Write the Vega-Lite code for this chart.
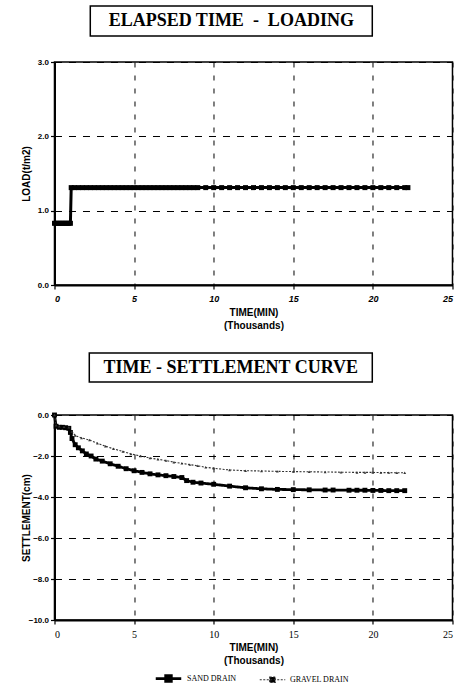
{
  "$schema": "https://vega.github.io/schema/vega-lite/v6.json",
  "padding": {"left": 20, "top": 5, "right": 0, "bottom": 0},
  "background": "white",
  "config": {
    "view": {"stroke": "black", "strokeWidth": 1.5},
    "axis": {
      "domainColor": "black", "domainWidth": 2,
      "tickColor": "black", "tickWidth": 1.2, "tickSize": 4,
      "gridColor": "black", "gridOpacity": 1, "gridWidth": 1,
      "labelColor": "black", "titleColor": "black",
      "labelFont": "Liberation Sans", "labelFontWeight": "bold", "labelFontSize": 8,
      "titleFont": "Liberation Sans", "titleFontWeight": "bold", "titleFontSize": 10
    },
    "axisX": {"gridDash": [5, 8]},
    "axisY": {"gridDash": [7, 7]}
  },
  "spacing": 21,
  "center": true,
  "vconcat": [
    {
      "spacing": 20,
      "center": true,
      "vconcat": [
        {
          "width": 282, "height": 30,
          "view": {"stroke": "black", "strokeWidth": 1.5},
          "title": {"text": ".", "orient": "right", "color": "transparent", "offset": 35, "fontSize": 10},
          "data": {"values": [{"t": "ELAPSED TIME\u00a0 -\u00a0 LOADING"}]},
          "mark": {"type": "text", "font": "Liberation Serif", "fontWeight": "bold", "fontSize": 18, "color": "black"},
          "encoding": {"text": {"field": "t"}}
        },
        {
          "width": 398, "height": 223,
          "view": {"stroke": "black", "strokeWidth": 1.5},
          "data": {"values": [
            {"t": 0, "L": 0.83}, {"t": 0.1, "L": 0.83}, {"t": 0.2, "L": 0.83}, {"t": 0.3, "L": 0.83},
            {"t": 0.4, "L": 0.83}, {"t": 0.5, "L": 0.83}, {"t": 0.6, "L": 0.83}, {"t": 0.7, "L": 0.83},
            {"t": 0.8, "L": 0.83}, {"t": 0.9, "L": 0.83}, {"t": 1.0, "L": 0.83},
            {"t": 1.05, "L": 1.31}, {"t": 1.25, "L": 1.31}, {"t": 1.5, "L": 1.31}, {"t": 1.75, "L": 1.31},
            {"t": 2.0, "L": 1.31}, {"t": 2.25, "L": 1.31}, {"t": 2.5, "L": 1.31}, {"t": 2.75, "L": 1.31},
            {"t": 3.0, "L": 1.31}, {"t": 3.25, "L": 1.31}, {"t": 3.5, "L": 1.31}, {"t": 3.75, "L": 1.31},
            {"t": 4.0, "L": 1.31}, {"t": 4.25, "L": 1.31}, {"t": 4.5, "L": 1.31}, {"t": 4.75, "L": 1.31},
            {"t": 5.0, "L": 1.31}, {"t": 5.25, "L": 1.31}, {"t": 5.5, "L": 1.31}, {"t": 5.75, "L": 1.31},
            {"t": 6.0, "L": 1.31}, {"t": 6.25, "L": 1.31}, {"t": 6.5, "L": 1.31}, {"t": 6.75, "L": 1.31},
            {"t": 7.0, "L": 1.31}, {"t": 7.25, "L": 1.31}, {"t": 7.5, "L": 1.31}, {"t": 7.75, "L": 1.31},
            {"t": 8.0, "L": 1.31}, {"t": 8.25, "L": 1.31}, {"t": 8.5, "L": 1.31}, {"t": 8.75, "L": 1.31},
            {"t": 9.0, "L": 1.31}, {"t": 9.5, "L": 1.31}, {"t": 10.0, "L": 1.31}, {"t": 10.5, "L": 1.31},
            {"t": 11.0, "L": 1.31}, {"t": 11.5, "L": 1.31}, {"t": 12.0, "L": 1.31}, {"t": 12.5, "L": 1.31},
            {"t": 13.0, "L": 1.31}, {"t": 13.5, "L": 1.31}, {"t": 14.0, "L": 1.31}, {"t": 14.5, "L": 1.31},
            {"t": 15.0, "L": 1.31}, {"t": 15.5, "L": 1.31}, {"t": 16.0, "L": 1.31}, {"t": 16.5, "L": 1.31},
            {"t": 17.0, "L": 1.31}, {"t": 17.5, "L": 1.31}, {"t": 18.0, "L": 1.31}, {"t": 18.5, "L": 1.31},
            {"t": 19.0, "L": 1.31}, {"t": 19.5, "L": 1.31}, {"t": 20.0, "L": 1.31}, {"t": 20.5, "L": 1.31},
            {"t": 21.0, "L": 1.31}, {"t": 21.5, "L": 1.31}, {"t": 22.0, "L": 1.31}, {"t": 22.2, "L": 1.31}
          ]},
          "encoding": {
            "x": {"field": "t", "type": "quantitative",
                  "scale": {"domain": [0, 25], "nice": false, "zero": false},
                  "axis": {"values": [0, 5, 10, 15, 20, 25], "format": "d",
                           "labelFontStyle": "italic", "labelFontSize": 9, "labelPadding": 5,
                           "title": ["TIME(MIN)", "(Thousands)"], "titlePadding": 4, "titleLineHeight": 13}},
            "y": {"field": "L", "type": "quantitative",
                  "scale": {"domain": [0, 3], "nice": false},
                  "axis": {"values": [0, 1, 2, 3], "format": ".1f", "title": "LOAD(t/m2)",
                           "labelPadding": 2, "titlePadding": 3, "minExtent": 20, "maxExtent": 20}}
          },
          "layer": [
            {"mark": {"type": "line", "color": "black", "strokeWidth": 3}},
            {"mark": {"type": "point", "shape": "square", "filled": true, "color": "black", "size": 25, "opacity": 1}}
          ]
        }
      ]
    },
    {
      "spacing": 25,
      "center": true,
      "vconcat": [
        {
          "width": 283, "height": 29,
          "view": {"stroke": "black", "strokeWidth": 1.5},
          "title": {"text": ".", "orient": "right", "color": "transparent", "offset": 36, "fontSize": 10},
          "data": {"values": [{"t": "TIME - SETTLEMENT CURVE"}]},
          "mark": {"type": "text", "font": "Liberation Serif", "fontWeight": "bold", "fontSize": 18, "color": "black"},
          "encoding": {"text": {"field": "t"}}
        },
        {
          "width": 398, "height": 205,
          "view": {"stroke": "black", "strokeWidth": 1.5},
          "data": {"values": [
            {"series": "SAND DRAIN", "t": 0, "s": 0},
            {"series": "SAND DRAIN", "t": 0.1, "s": -0.55},
            {"series": "SAND DRAIN", "t": 0.3, "s": -0.6},
            {"series": "SAND DRAIN", "t": 0.5, "s": -0.6},
            {"series": "SAND DRAIN", "t": 0.7, "s": -0.62},
            {"series": "SAND DRAIN", "t": 0.9, "s": -0.65},
            {"series": "SAND DRAIN", "t": 1.0, "s": -0.85},
            {"series": "SAND DRAIN", "t": 1.1, "s": -1.15},
            {"series": "SAND DRAIN", "t": 1.3, "s": -1.45},
            {"series": "SAND DRAIN", "t": 1.5, "s": -1.6},
            {"series": "SAND DRAIN", "t": 1.75, "s": -1.75},
            {"series": "SAND DRAIN", "t": 2.0, "s": -1.9},
            {"series": "SAND DRAIN", "t": 2.3, "s": -2.0},
            {"series": "SAND DRAIN", "t": 2.6, "s": -2.15},
            {"series": "SAND DRAIN", "t": 3.0, "s": -2.25},
            {"series": "SAND DRAIN", "t": 3.5, "s": -2.38},
            {"series": "SAND DRAIN", "t": 4.0, "s": -2.5},
            {"series": "SAND DRAIN", "t": 4.5, "s": -2.62},
            {"series": "SAND DRAIN", "t": 5.0, "s": -2.72},
            {"series": "SAND DRAIN", "t": 5.5, "s": -2.8},
            {"series": "SAND DRAIN", "t": 6.0, "s": -2.87},
            {"series": "SAND DRAIN", "t": 6.5, "s": -2.92},
            {"series": "SAND DRAIN", "t": 7.0, "s": -2.96},
            {"series": "SAND DRAIN", "t": 7.5, "s": -3.0},
            {"series": "SAND DRAIN", "t": 8.0, "s": -3.05},
            {"series": "SAND DRAIN", "t": 8.3, "s": -3.2},
            {"series": "SAND DRAIN", "t": 8.7, "s": -3.28},
            {"series": "SAND DRAIN", "t": 9.2, "s": -3.32},
            {"series": "SAND DRAIN", "t": 10.0, "s": -3.38},
            {"series": "SAND DRAIN", "t": 11.0, "s": -3.47},
            {"series": "SAND DRAIN", "t": 12.0, "s": -3.55},
            {"series": "SAND DRAIN", "t": 13.0, "s": -3.6},
            {"series": "SAND DRAIN", "t": 14.0, "s": -3.63},
            {"series": "SAND DRAIN", "t": 15.0, "s": -3.64},
            {"series": "SAND DRAIN", "t": 16.0, "s": -3.65},
            {"series": "SAND DRAIN", "t": 17.0, "s": -3.66},
            {"series": "SAND DRAIN", "t": 17.5, "s": -3.66},
            {"series": "SAND DRAIN", "t": 18.5, "s": -3.67},
            {"series": "SAND DRAIN", "t": 19.0, "s": -3.67},
            {"series": "SAND DRAIN", "t": 19.5, "s": -3.67},
            {"series": "SAND DRAIN", "t": 20.0, "s": -3.68},
            {"series": "SAND DRAIN", "t": 20.5, "s": -3.68},
            {"series": "SAND DRAIN", "t": 21.0, "s": -3.69},
            {"series": "SAND DRAIN", "t": 21.5, "s": -3.69},
            {"series": "SAND DRAIN", "t": 22.0, "s": -3.69},
            {"series": "GRAVEL DRAIN", "t": 0, "s": 0},
            {"series": "GRAVEL DRAIN", "t": 0.1, "s": -0.5},
            {"series": "GRAVEL DRAIN", "t": 0.3, "s": -0.55},
            {"series": "GRAVEL DRAIN", "t": 0.6, "s": -0.58},
            {"series": "GRAVEL DRAIN", "t": 0.9, "s": -0.6},
            {"series": "GRAVEL DRAIN", "t": 1.1, "s": -0.8},
            {"series": "GRAVEL DRAIN", "t": 1.3, "s": -1.0},
            {"series": "GRAVEL DRAIN", "t": 1.7, "s": -1.12},
            {"series": "GRAVEL DRAIN", "t": 2.2, "s": -1.22},
            {"series": "GRAVEL DRAIN", "t": 2.7, "s": -1.38},
            {"series": "GRAVEL DRAIN", "t": 3.2, "s": -1.52},
            {"series": "GRAVEL DRAIN", "t": 3.7, "s": -1.65},
            {"series": "GRAVEL DRAIN", "t": 4.3, "s": -1.78},
            {"series": "GRAVEL DRAIN", "t": 4.8, "s": -1.9},
            {"series": "GRAVEL DRAIN", "t": 5.4, "s": -2.0},
            {"series": "GRAVEL DRAIN", "t": 6.0, "s": -2.1},
            {"series": "GRAVEL DRAIN", "t": 6.5, "s": -2.16},
            {"series": "GRAVEL DRAIN", "t": 7.0, "s": -2.22},
            {"series": "GRAVEL DRAIN", "t": 7.5, "s": -2.3},
            {"series": "GRAVEL DRAIN", "t": 8.0, "s": -2.36},
            {"series": "GRAVEL DRAIN", "t": 8.5, "s": -2.42},
            {"series": "GRAVEL DRAIN", "t": 9.0, "s": -2.48},
            {"series": "GRAVEL DRAIN", "t": 9.5, "s": -2.55},
            {"series": "GRAVEL DRAIN", "t": 10.0, "s": -2.6},
            {"series": "GRAVEL DRAIN", "t": 11.0, "s": -2.68},
            {"series": "GRAVEL DRAIN", "t": 12.0, "s": -2.72},
            {"series": "GRAVEL DRAIN", "t": 13.0, "s": -2.73},
            {"series": "GRAVEL DRAIN", "t": 14.0, "s": -2.75},
            {"series": "GRAVEL DRAIN", "t": 15.0, "s": -2.76},
            {"series": "GRAVEL DRAIN", "t": 16.0, "s": -2.77},
            {"series": "GRAVEL DRAIN", "t": 17.0, "s": -2.78},
            {"series": "GRAVEL DRAIN", "t": 18.0, "s": -2.79},
            {"series": "GRAVEL DRAIN", "t": 19.0, "s": -2.8},
            {"series": "GRAVEL DRAIN", "t": 19.5, "s": -2.8},
            {"series": "GRAVEL DRAIN", "t": 20.0, "s": -2.8},
            {"series": "GRAVEL DRAIN", "t": 20.5, "s": -2.81},
            {"series": "GRAVEL DRAIN", "t": 21.0, "s": -2.81},
            {"series": "GRAVEL DRAIN", "t": 21.5, "s": -2.82},
            {"series": "GRAVEL DRAIN", "t": 22.0, "s": -2.82}
          ]},
          "encoding": {
            "x": {"field": "t", "type": "quantitative",
                  "scale": {"domain": [0, 25], "nice": false, "zero": false},
                  "axis": {"values": [0, 5, 10, 15, 20, 25], "format": "d",
                           "labelFont": "Liberation Serif", "labelFontWeight": "normal", "labelFontSize": 10, "labelPadding": 5,
                           "title": ["TIME(MIN)", "(Thousands)"], "titlePadding": 3, "titleLineHeight": 13}},
            "y": {"field": "s", "type": "quantitative",
                  "scale": {"domain": [-10, 0], "nice": false},
                  "axis": {"values": [-10, -8, -6, -4, -2, 0], "format": ".1f", "title": "SETTLEMENT(cm)",
                           "labelPadding": 2, "titlePadding": 3, "minExtent": 20, "maxExtent": 20}}
          },
          "layer": [
            {
              "mark": {"type": "line"},
              "encoding": {
                "color": {"field": "series", "type": "nominal",
                          "scale": {"domain": ["SAND DRAIN", "GRAVEL DRAIN"], "range": ["black", "#333333"]},
                          "legend": {"title": null, "orient": "none", "legendX": 100, "legendY": 658, "direction": "horizontal",
                                     "symbolType": "M-1,0H1M-0.22,-0.22H0.22V0.22H-0.22Z", "symbolSize": 650,
                                     "symbolFillColor": "black",
                                     "labelFont": "Liberation Serif", "labelFontSize": 8, "labelColor": "black",
                                     "columnPadding": 20, "labelOffset": 4}},
                "strokeDash": {"field": "series", "type": "nominal",
                               "scale": {"domain": ["SAND DRAIN", "GRAVEL DRAIN"], "range": [[1, 0], [2, 1.5]]},
                               "legend": {"title": null, "orient": "none", "legendX": 100, "legendY": 658, "direction": "horizontal",
                                     "symbolType": "M-1,0H1M-0.22,-0.22H0.22V0.22H-0.22Z", "symbolSize": 650,
                                     "symbolFillColor": "black",
                                     "labelFont": "Liberation Serif", "labelFontSize": 8, "labelColor": "black",
                                     "columnPadding": 20, "labelOffset": 4}},
                "strokeWidth": {"field": "series", "type": "nominal",
                                "scale": {"domain": ["SAND DRAIN", "GRAVEL DRAIN"], "range": [2.8, 1.1]},
                                "legend": {"title": null, "orient": "none", "legendX": 100, "legendY": 658, "direction": "horizontal",
                                     "symbolType": "M-1,0H1M-0.22,-0.22H0.22V0.22H-0.22Z", "symbolSize": 650,
                                     "symbolFillColor": "black",
                                     "labelFont": "Liberation Serif", "labelFontSize": 8, "labelColor": "black",
                                     "columnPadding": 20, "labelOffset": 4}}
              }
            },
            {
              "transform": [{"filter": "datum.series === 'SAND DRAIN'"}],
              "mark": {"type": "point", "shape": "square", "filled": true, "color": "black", "size": 24, "opacity": 1}
            },
            {
              "transform": [{"filter": "datum.series === 'GRAVEL DRAIN'"}],
              "mark": {"type": "point", "shape": "triangle-up", "filled": true, "color": "#333333", "size": 8, "opacity": 1}
            }
          ]
        }
      ]
    }
  ]
}
